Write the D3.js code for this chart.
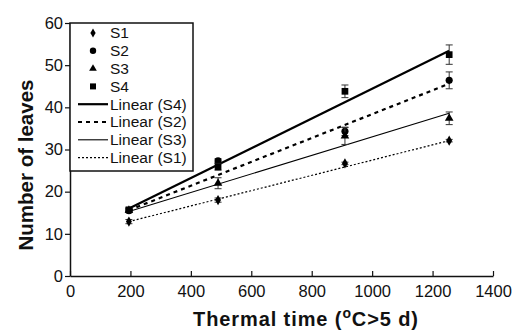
<!DOCTYPE html>
<html>
<head>
<meta charset="utf-8">
<script src="https://cdn.jsdelivr.net/npm/d3@7"></script>
<style>
  body { margin: 0; background: #fff; }
  text { font-family: "Liberation Sans", Arial, sans-serif; fill: #111; }
  .tick text { font-size: 16.5px; }
  .axisTitle { font-weight: bold; }
  .legText { font-size: 15.5px; }
</style>
</head>
<body>
<div class="chart"></div>
<script>
// Number of leaves vs thermal time
var svgWidth = 516;
var svgHeight = 331;

var margin = { top: 23, right: 23, bottom: 55, left: 70 };
var width = svgWidth - margin.left - margin.right;
var height = svgHeight - margin.top - margin.bottom;

// data
var thermalTime = [195, 490, 910, 1255];
var seriesNames = ["S1", "S2", "S3", "S4"];
var s1Leaves = [12.9, 18.0, 26.7, 32.1];
var s2Leaves = [15.5, 27.3, 34.3, 46.4];
var s3Leaves = [15.6, 22.0, 33.2, 37.4];
var s4Leaves = [15.7, 25.9, 43.8, 52.5];
var s1Err = [0.5, 0.5, 0.3, 0.3];
var s2Err = [0.4, 0.5, 1.0, 2.0];
var s3Err = [0.4, 1.3, 2.0, 1.5];
var s4Err = [0.5, 0.8, 1.5, 2.3];
// linear trend lines: value at first and last x
var trendX = [195, 1255];
var s1Trend = [12.9, 32.1];
var s2Trend = [15.6, 45.6];
var s3Trend = [15.3, 38.6];
var s4Trend = [16.0, 53.4];
var xTicks = [0, 200, 400, 600, 800, 1000, 1200, 1400];
var yTicks = [0, 10, 20, 30, 40, 50, 60];

var series = [
  { name: "S1", y: s1Leaves, err: s1Err, trend: s1Trend, shape: d3.symbolDiamond, size: 30, width: 1.2, dash: "2,2" },
  { name: "S2", y: s2Leaves, err: s2Err, trend: s2Trend, shape: d3.symbolCircle, size: 40, width: 2.2, dash: "4,4" },
  { name: "S3", y: s3Leaves, err: s3Err, trend: s3Trend, shape: d3.symbolTriangle, size: 32, width: 1.1, dash: null },
  { name: "S4", y: s4Leaves, err: s4Err, trend: s4Trend, shape: d3.symbolSquare, size: 45, width: 2.2, dash: null }
];

var svg = d3.select(".chart")
  .append("svg")
  .attr("width", svgWidth)
  .attr("height", svgHeight);

var chartGroup = svg.append("g")
  .attr("transform", `translate(${margin.left}, ${margin.top})`);

var xScale = d3.scaleLinear().domain([0, 1400]).range([0, width]);
var yScale = d3.scaleLinear().domain([0, 60]).range([height, 0]);

// axes
var xAxis = chartGroup.append("g")
  .attr("transform", `translate(0, ${height})`)
  .call(d3.axisBottom(xScale).tickValues(xTicks).tickFormat(d3.format("d"))
    .tickSizeInner(-5).tickSizeOuter(0).tickPadding(11));
var yAxis = chartGroup.append("g")
  .call(d3.axisLeft(yScale).tickValues(yTicks).tickFormat(d3.format("d"))
    .tickSizeInner(5).tickSizeOuter(0).tickPadding(2));
[xAxis, yAxis].forEach(function (ax) {
  ax.select(".domain").attr("stroke", "#111").attr("stroke-width", 1.5);
  ax.selectAll(".tick line").attr("stroke", "#111").attr("stroke-width", 1.2);
  ax.selectAll(".tick text").attr("fill", "#111");
});
xAxis.selectAll(".tick text").attr("dy", "0.6em");

// trend lines
var line = d3.line()
  .x((d, i) => xScale(trendX[i]))
  .y(d => yScale(d));

series.forEach(function (s) {
  chartGroup.append("path")
    .datum(s.trend)
    .attr("d", line)
    .attr("fill", "none")
    .attr("stroke", "#000")
    .attr("stroke-width", s.width)
    .attr("stroke-dasharray", s.dash);
});

// error bars and markers
series.forEach(function (s) {
  var g = chartGroup.append("g");
  var pts = thermalTime.map((x, i) => ({ x: x, y: s.y[i], e: s.err[i] }));
  var eb = g.selectAll(".eb").data(pts).enter().append("g");
  eb.append("line")
    .attr("x1", d => xScale(d.x)).attr("x2", d => xScale(d.x))
    .attr("y1", d => yScale(d.y + d.e)).attr("y2", d => yScale(d.y - d.e))
    .attr("stroke", "#333").attr("stroke-width", 1);
  [1, -1].forEach(function (sign) {
    eb.append("line")
      .attr("x1", d => xScale(d.x) - 3.5).attr("x2", d => xScale(d.x) + 3.5)
      .attr("y1", d => yScale(d.y + sign * d.e)).attr("y2", d => yScale(d.y + sign * d.e))
      .attr("stroke", "#333").attr("stroke-width", 1);
  });
  g.selectAll("path.mk").data(pts).enter().append("path")
    .attr("class", "mk")
    .attr("d", d3.symbol().type(s.shape).size(s.size))
    .attr("transform", d => `translate(${xScale(d.x)}, ${yScale(d.y)})`)
    .attr("fill", "#000");
});

// legend
var legend = chartGroup.append("g");
legend.append("rect")
  .attr("x", 0).attr("y", 0)
  .attr("width", 123).attr("height", 148)
  .attr("fill", "#fff").attr("stroke", "#111").attr("stroke-width", 1.5);

var legendRows = series.map(s => ({ label: s.name, s: s, type: "marker" }));
[3, 1, 2, 0].forEach(function (k) {
  legendRows.push({ label: "Linear (" + series[k].name + ")", s: series[k], type: "line" });
});

legendRows.forEach(function (r, i) {
  var y = 10 + i * 17.8;
  if (r.type === "marker") {
    legend.append("path")
      .attr("d", d3.symbol().type(r.s.shape).size(r.s.size * 0.8))
      .attr("transform", `translate(23, ${y})`)
      .attr("fill", "#000");
  } else {
    legend.append("line")
      .attr("x1", 8).attr("x2", 38).attr("y1", y).attr("y2", y)
      .attr("stroke", "#000")
      .attr("stroke-width", r.s.width)
      .attr("stroke-dasharray", r.s.dash);
  }
  legend.append("text")
    .attr("class", "legText")
    .attr("x", 40).attr("y", y)
    .attr("dy", "0.35em")
    .text(r.label);
});

// axis titles
var xTitle = chartGroup.append("text")
  .attr("class", "axisTitle")
  .attr("font-size", "20px")
  .attr("letter-spacing", "0.9px")
  .attr("text-anchor", "middle")
  .attr("x", 236).attr("y", height + 50);
xTitle.append("tspan").text("Thermal time (");
xTitle.append("tspan").attr("dy", -8).attr("font-size", "14px").text("o");
xTitle.append("tspan").attr("dy", 8).text("C>5 d)");

chartGroup.append("text")
  .attr("class", "axisTitle")
  .attr("font-size", "20.5px")
  .attr("text-anchor", "middle")
  .attr("transform", "rotate(-90)")
  .attr("x", -142)
  .attr("y", -37)
  .text("Number of leaves");
</script>
</body>
</html>
